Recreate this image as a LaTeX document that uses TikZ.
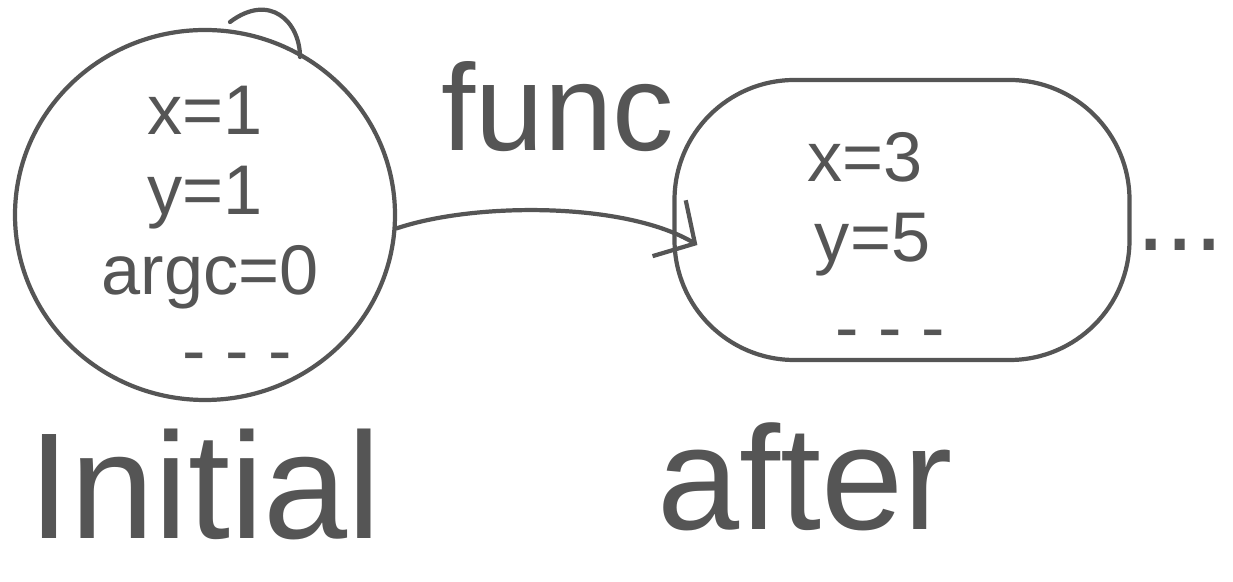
\documentclass[tikz,border=0pt]{standalone}
\usepackage{fontspec}
\setmainfont{Liberation Sans}
\usetikzlibrary{positioning,shapes.geometric,arrows.meta}
\definecolor{pencil}{HTML}{555555}

\tikzset{
  pen/.style={draw=pencil, line width=2.4pt, line cap=round, line join=round},
  blob/.style={pen, minimum width=#1},
  inner/.style={text=pencil, font=\fontsize{40}{44}\selectfont, inner sep=0pt, anchor=base},
  caption/.style={text=pencil, font=\fontsize{86}{92}\selectfont, inner sep=0pt},
}

\begin{document}
\begin{tikzpicture}
	\useasboundingbox (0,0) rectangle (24.66,11.64);

	% state blobs
	\node[blob=7.6cm, ellipse, minimum height=7.4cm] (init) at (4.1,7.34) {};
	\node[blob=9.1cm, rectangle, rounded corners=2.4cm, minimum height=5.6cm] (final) at (18.04,7.24) {};
	\draw[pen] (4.6,11.2) .. controls (5.4,11.8) and (6.0,11.2) .. (6.0,10.5);

	% values before
	\node[inner] (x1) at (4.1,8.95) {x=1};
	\node[inner] (y1) at (4.1,7.35) {y=1};
	\node[inner] (argc) at (4.2,5.75) {argc=0};
	\node[inner] (dotsA) at (4.74,4.15) {- - -};

	% values after
	\node[inner] (x3) at (17.3,8.0) {x=3};
	\node[inner] (y5) at (17.45,6.4) {y=5};
	\node[inner] (dotsB) at (17.8,4.6) {- - -};

	% labels
	\node[caption, font=\fontsize{70}{76}\selectfont] (func) at (11.16,9.5) {func};
	\node[caption] (lblinit) at (4.1,1.95) {Initial};
	\node[caption, font=\fontsize{84}{90}\selectfont] (lblafter) at (16.1,2.1) {after};
	\node[caption, font=\fontsize{60}{66}\selectfont] (more) at (23.6,6.74) {...};

	\coordinate (tip) at ([shift={(0.5,-0.5)}]final.west);
	\draw[pen, -{Straight Barb[length=0.6cm, width=1.3cm]}] (init.-4) .. controls (9.5,7.6) and (12.5,7.6) .. (tip);
\end{tikzpicture}
\end{document}
